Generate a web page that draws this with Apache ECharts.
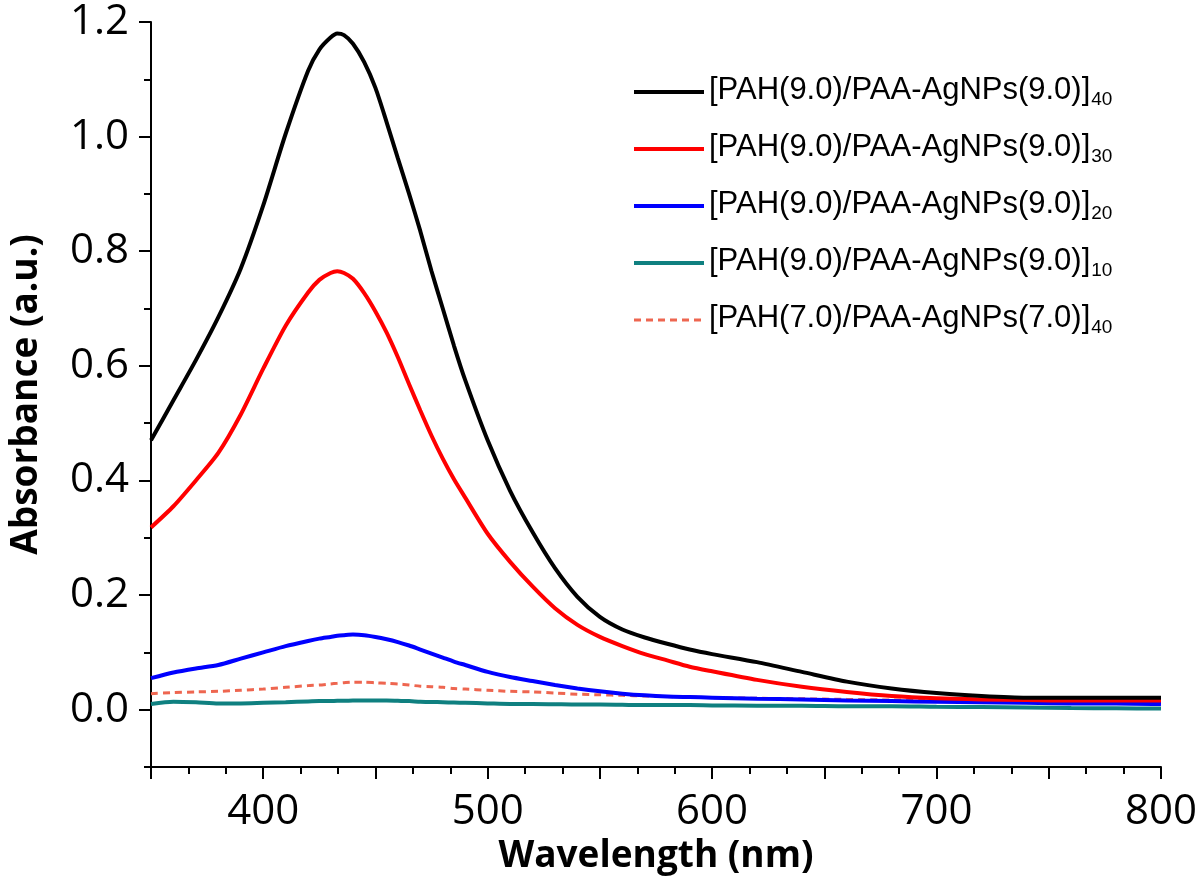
<!DOCTYPE html>
<html>
<head>
<meta charset="utf-8">
<script src="https://cdn.jsdelivr.net/npm/echarts@6/dist/echarts.min.js"></script>
<style>
html,body{margin:0;padding:0;background:#fff;}
#chart{width:1200px;height:887px;}
</style>
</head>
<body>
<div id="chart"></div>
<script>
// Wavelength grid (nm)
const wavelength = [350,360,370,380,390,400,410,420,
  425,430,433,436,440,445,450,455,460,465,470,475,480,485,490,
  500,510,520,530,540,550,560,570,580,590,600,
  620,640,660,680,700,720,740,760,780,800];

// Absorbance values
const pah9_40 = [0.47,0.54,0.61,0.685,0.77,0.88,1.005,1.115,
  1.152,1.173,1.18,1.177,1.162,1.13,1.085,1.025,0.962,0.90,0.835,0.765,0.70,0.635,0.575,
  0.47,0.382,0.31,0.247,0.197,0.162,0.14,0.126,0.115,0.105,0.097,
  0.083,0.066,0.049,0.037,0.029,0.024,0.021,0.021,0.021,0.021];
const pah9_30 = [0.318,0.355,0.40,0.448,0.515,0.595,0.67,0.728,
  0.75,0.762,0.765,0.762,0.752,0.727,0.695,0.658,0.615,0.568,0.522,0.478,0.438,0.402,0.37,
  0.307,0.258,0.215,0.177,0.148,0.127,0.111,0.097,0.086,0.075,0.067,
  0.052,0.04,0.031,0.024,0.02,0.018,0.017,0.016,0.016,0.016];
const pah9_20 = [0.055,0.065,0.072,0.078,0.089,0.1,0.111,0.12,
  0.124,0.127,0.129,0.13,0.131,0.13,0.127,0.123,0.118,0.112,0.105,0.098,0.091,0.084,0.078,
  0.066,0.057,0.05,0.043,0.037,0.032,0.028,0.025,0.023,0.022,0.021,
  0.019,0.018,0.016,0.015,0.014,0.013,0.012,0.011,0.011,0.010];
const pah9_10 = [0.010,0.014,0.013,0.011,0.011,0.012,0.013,0.0145,
  0.015,0.015,0.0155,0.0155,0.016,0.016,0.016,0.016,0.0155,0.015,0.014,0.0135,0.013,0.0125,0.012,
  0.011,0.010,0.010,0.0095,0.009,0.009,0.0085,0.008,0.008,0.008,0.0075,
  0.007,0.007,0.006,0.006,0.005,0.0045,0.004,0.003,0.0025,0.002];
const pah7_40 = [0.028,0.030,0.031,0.032,0.034,0.036,0.039,0.042,
  0.043,0.045,0.046,0.047,0.048,0.048,0.047,0.046,0.045,0.043,0.041,0.04,0.039,0.037,0.036,
  0.034,0.032,0.031,0.029,0.027,0.026,0.025,0.024,0.023,0.022,0.021,
  0.020,0.019,0.018,0.017,0.017,0.016,0.015,0.014,0.013,0.012];

// Legend labels (base text + subscript)
const legendBase = ['[PAH(9.0)/PAA-AgNPs(9.0)]','[PAH(9.0)/PAA-AgNPs(9.0)]','[PAH(9.0)/PAA-AgNPs(9.0)]','[PAH(9.0)/PAA-AgNPs(9.0)]','[PAH(7.0)/PAA-AgNPs(7.0)]'];
const legendSub = ['40','30','20','10','40'];

// Axis ticks
const xLabelValues = [400,500,600,700,800];
const yLabelValues = [0,0.2,0.4,0.6,0.8,1.0,1.2];
const yMinorValues = [-0.1,0.1,0.3,0.5,0.7,0.9,1.1];

const seriesValues = [pah9_40, pah9_30, pah9_20, pah9_10, pah7_40];
const colors = ['#000000','#ff0000','#0000ff','#0f8080','#ee6650'];
const widths = [4,4,4,4,3];
const types = ['solid','solid','solid','solid',[7,5]];

const names = legendBase.map((b,i)=> b + '|' + legendSub[i] + '|' + i);

const chart = echarts.init(document.getElementById('chart'), null, {renderer:'canvas'});
const tickFont = '"Open Sans", sans-serif';

const series = seriesValues.map((vals,i)=>({
  name: names[i],
  type: 'line',
  data: wavelength.map((w,j)=>[w, vals[j]]),
  symbol: 'none',
  smooth: 0.25,
  z: 10 - i,
  lineStyle: {color: colors[i], width: widths[i], type: types[i]},
  itemStyle: {color: colors[i]}
}));
series[4].z = 6;

chart.setOption({
  animation: false,
  backgroundColor: '#ffffff',
  grid: {left:150, right:38, top:22, bottom:120, containLabel:false},
  xAxis: {
    type:'value', min:350, max:800, interval:50,
    name:'Wavelength (nm)', nameLocation:'middle', nameGap:66,
    nameTextStyle:{fontFamily:tickFont, fontWeight:'bold', fontSize:37, color:'#000'},
    axisLine:{show:true, onZero:false, lineStyle:{color:'#000', width:2}},
    axisTick:{show:true, length:12, lineStyle:{color:'#000', width:2}},
    minorTick:{show:true, splitNumber:3, length:7, lineStyle:{color:'#000', width:2}},
    axisLabel:{customValues:xLabelValues, margin:24, fontFamily:tickFont, fontSize:42, color:'#000'},
    splitLine:{show:false}, minorSplitLine:{show:false}
  },
  yAxis: [{
    type:'value', min:-0.1, max:1.2, interval:0.1,
    name:'Absorbance (a.u.)', nameLocation:'middle', nameGap:106,
    nameTextStyle:{fontFamily:tickFont, fontWeight:'bold', fontSize:37, color:'#000'},
    axisLine:{show:true, onZero:false, lineStyle:{color:'#000', width:2}},
    axisTick:{show:true, customValues:yLabelValues, length:12, lineStyle:{color:'#000', width:2}},
    axisLabel:{customValues:yLabelValues, margin:22, fontFamily:tickFont, fontSize:42, color:'#000',
      formatter: v => v.toFixed(1)},
    splitLine:{show:false}
  },{
    type:'value', min:-0.1, max:1.2, interval:0.1, position:'left',
    axisLine:{show:false, onZero:false},
    axisTick:{show:true, customValues:yMinorValues, length:7, lineStyle:{color:'#000', width:2}},
    axisLabel:{show:false},
    splitLine:{show:false}
  }],
  legend: {
    orient:'vertical', left:632, top:72, padding:0,
    itemWidth:70, itemHeight:14, itemGap:20,
    itemStyle:{opacity:0},
    data: names.map((n,i)=>({name:n, lineStyle:{width:widths[i], type:types[i], color:colors[i]}})),
    formatter: n => { const p = n.split('|'); return '{m|' + p[0] + '}{s|' + p[1] + '}'; },
    textStyle:{
      rich:{
        m:{fontFamily:'"Liberation Sans", Arial, sans-serif', fontSize:31, color:'#000', lineHeight:34, verticalAlign:'top'},
        s:{fontFamily:'"Liberation Sans", Arial, sans-serif', fontSize:19, color:'#000', lineHeight:19, verticalAlign:'bottom', padding:[18,0,0,1]}
      }
    }
  },
  series: series
});
</script>
</body>
</html>
